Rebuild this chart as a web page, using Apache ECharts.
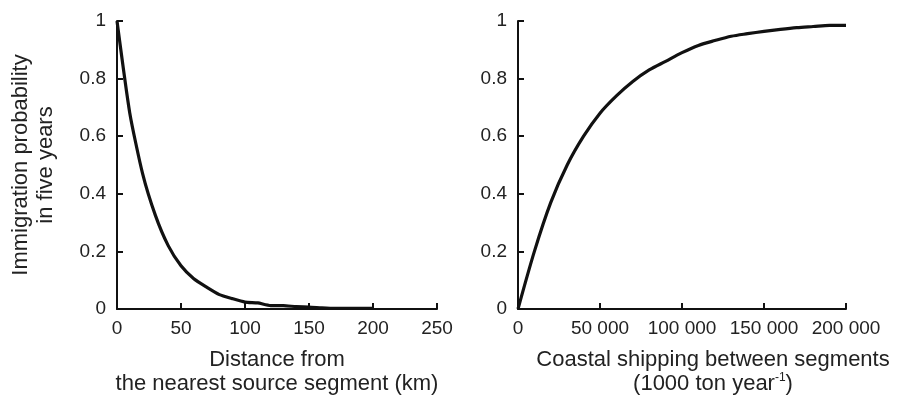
<!DOCTYPE html>
<html>
<head>
<meta charset="utf-8">
<script src="https://cdn.jsdelivr.net/npm/echarts@6/dist/echarts.min.js"></script>
<style>
html,body{margin:0;padding:0;background:#fff;}
#chart{width:904px;height:396px;}
</style>
</head>
<body>
<div id="chart"></div>
<script>
// Left panel: distance (km) vs immigration probability
var distanceKm = [0, 10, 20, 30, 40, 50, 60, 70, 80, 90, 100, 110, 120, 130, 140, 150, 160, 170, 180, 190, 200];
var probByDistance = [1, 0.68, 0.47, 0.325, 0.22, 0.15, 0.105, 0.076, 0.05, 0.036, 0.024, 0.021, 0.012, 0.012, 0.008, 0.007, 0.004, 0.002, 0.002, 0.002, 0.002];
// Right panel: coastal shipping (1000 ton/yr) vs immigration probability
var shipping = [0, 10000, 20000, 30000, 40000, 50000, 60000, 70000, 80000, 90000, 100000, 110000, 120000, 130000, 140000, 150000, 160000, 170000, 180000, 190000, 200000];
var probByShipping = [0, 0.2, 0.37, 0.5, 0.6, 0.68, 0.74, 0.79, 0.83, 0.86, 0.89, 0.915, 0.932, 0.947, 0.956, 0.964, 0.971, 0.977, 0.981, 0.985, 0.985];
var yTicks = [0, 0.2, 0.4, 0.6, 0.8, 1];

var FONT = '"Liberation Sans", Arial, Helvetica, sans-serif';
var INK = '#111';
var TXT = '#222';

function pairs(xs, ys) { return xs.map(function (x, i) { return [x, ys[i]]; }); }

function yAxisCfg(gridIndex, withName) {
  var cfg = {
    type: 'value', gridIndex: gridIndex, min: yTicks[0], max: yTicks[yTicks.length - 1], interval: 0.2,
    axisLine: { show: true, lineStyle: { color: INK, width: 2 } },
    axisTick: { show: true, inside: true, length: 6, lineStyle: { color: INK, width: 2 } },
    axisLabel: { color: TXT, fontSize: 19, fontFamily: FONT, margin: 11,
      formatter: function (v) { return String(Math.round(v * 10) / 10); } },
    splitLine: { show: false }
  };
  if (withName) {
    cfg.name = 'Immigration probability\nin five years';
    cfg.nameLocation = 'middle';
    cfg.nameGap = 59;
    cfg.nameTextStyle = { color: TXT, fontSize: 22, fontFamily: FONT, lineHeight: 25 };
  }
  return cfg;
}

var chart = echarts.init(document.getElementById('chart'), null, { renderer: 'canvas' });
chart.setOption({
  backgroundColor: '#fff',
  animation: false,
  grid: [
    { left: 117, right: 467, top: 21, bottom: 87, outerBoundsMode: 'none', containLabel: false },
    { left: 518, right: 58, top: 21, bottom: 87, outerBoundsMode: 'none', containLabel: false }
  ],
  xAxis: [
    {
      type: 'value', gridIndex: 0, min: 0, max: 250, interval: 50,
      name: 'Distance from\nthe nearest source segment (km)',
      nameLocation: 'middle', nameGap: 39,
      nameTextStyle: { color: TXT, fontSize: 22, fontFamily: FONT, lineHeight: 24 },
      axisLine: { show: true, lineStyle: { color: INK, width: 2 } },
      axisTick: { show: true, inside: true, length: 6, lineStyle: { color: INK, width: 2 } },
      axisLabel: { color: TXT, fontSize: 19, fontFamily: FONT, margin: 10 },
      splitLine: { show: false }
    },
    {
      type: 'value', gridIndex: 1, min: 0, max: 200000, interval: 50000,
      name: '{n|Coastal shipping between segments}\n{n|(1000 ton year}{s|-1}{n|)}',
      nameLocation: 'middle', nameGap: 39,
      nameTextStyle: { color: TXT, fontSize: 22, fontFamily: FONT, lineHeight: 24, padding: [0, 0, 0, 62],
        rich: {
          n: { fontSize: 22, fontFamily: FONT, color: TXT, lineHeight: 24 },
          s: { fontSize: 12, fontFamily: FONT, color: TXT, verticalAlign: 'top', lineHeight: 24 }
        } },
      axisLine: { show: true, lineStyle: { color: INK, width: 2 } },
      axisTick: { show: true, inside: true, length: 6, lineStyle: { color: INK, width: 2 } },
      axisLabel: { color: TXT, fontSize: 19, fontFamily: FONT, margin: 10,
        formatter: function (v) { return v === 0 ? '0' : String(v).replace(/\B(?=(\d{3})+(?!\d))/g, ' '); } },
      splitLine: { show: false }
    }
  ],
  yAxis: [yAxisCfg(0, true), yAxisCfg(1, false)],
  series: [
    {
      type: 'line', xAxisIndex: 0, yAxisIndex: 0, data: pairs(distanceKm, probByDistance),
      showSymbol: false, smooth: 0.2, lineStyle: { color: INK, width: 3.2 }
    },
    {
      type: 'line', xAxisIndex: 1, yAxisIndex: 1, data: pairs(shipping, probByShipping),
      showSymbol: false, smooth: 0.3, lineStyle: { color: INK, width: 3.2 }
    }
  ]
});
</script>
</body>
</html>
